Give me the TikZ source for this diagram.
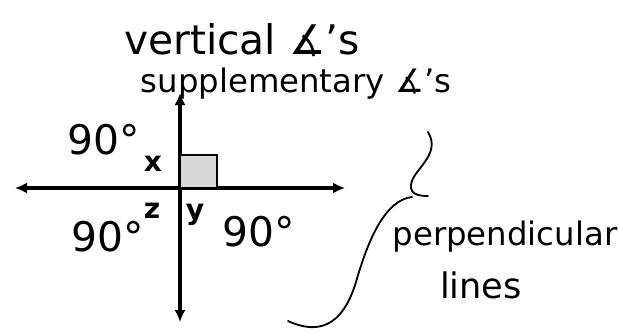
\documentclass[tikz,border=0pt]{standalone}
\usepackage{fontspec}
\setmainfont{DejaVu Sans}
\usetikzlibrary{arrows.meta}
\tikzset{
  axis-line/.style={line width=2.5pt,{Latex[length=3mm,width=2.8mm]}-{Latex[length=3mm,width=2.8mm]}},
  angle-box/.style={line width=2pt,fill=black!15},
  note/.style={font=\fontsize{#1}{#1}\selectfont,inner sep=0pt,anchor=center},
  note/.default=24,
  letter/.style={font=\fontsize{20}{22}\selectfont\bfseries,inner sep=0pt},
  brace-line/.style={line width=1.3pt,line cap=round},
}
\begin{document}
\begin{tikzpicture}[x=0.025cm,y=-0.025cm]
  \useasboundingbox (0,0) rectangle (618,332);
  % the two lines
  \coordinate (O) at (180,188);
  \draw[axis-line] (15,188) -- (345,188);
  \draw[axis-line] (180,93) -- (180,322);
  \filldraw[angle-box] (O) rectangle (217,155);
  % angle labels
  \node[letter] (x) at (153,164) {x};
  \node[letter] (z) at (152,211) {z};
  \node[letter] (y) at (195,215) {y};
  \node[note=29] (a1) at (104,140) {90°};
  \node[note=29] (a2) at (108,237) {90°};
  \node[note=29] (a3) at (259,232) {90°};
  % notes
  \node[note=29] (vert) at (242,40) {vertical ∡'s};
  \node[note=23] (supp) at (296,84) {supplementary ∡'s};
  \node[note=23] (perp) at (505,237) {perpendicular};
  \node[note=25] (lines) at (481,285) {lines};
  % brace
  \draw[brace-line] (428,132) .. controls (442,155) and (412,170) .. (411,185)
    .. controls (410,194) and (418,196) .. (428,196);
  \draw[brace-line] (412,197) .. controls (385,200) and (368,240) .. (356,282)
    .. controls (345,318) and (325,338) .. (288,321);
\end{tikzpicture}
\end{document}
